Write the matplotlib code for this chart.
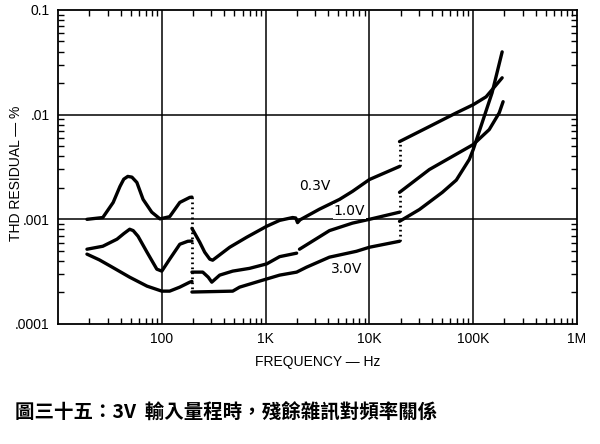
import matplotlib
matplotlib.use("Agg")
import matplotlib.pyplot as plt
from matplotlib.ticker import FixedLocator, FixedFormatter, LogLocator, NullFormatter

# data (Hz, THD residual %)
# 0.3V
f03_lo = [19, 27, 34, 39.5, 43, 47, 51.5, 57.5, 66, 80, 96, 119, 149, 186, 195]
v03_lo = [0.00100, 0.00104, 0.00145, 0.00206, 0.00242, 0.00257, 0.00253, 0.00225,
          0.00155, 0.00117, 0.00101, 0.00106, 0.00145, 0.00162, 0.00163]
f03_mid = [195, 210, 232, 259, 290, 309, 451, 657, 1023, 1365, 1820, 1950, 2030,
           2150, 3300, 5150, 6870, 10000, 19500]
v03_mid = [0.00082, 0.00072, 0.000604, 0.000485, 0.000416, 0.000407, 0.000541,
           0.000674, 0.000858, 0.000977, 0.00104, 0.00103, 0.00093, 0.00099,
           0.00125, 0.00155, 0.00185, 0.0024, 0.0032]
f03_hi = [19500, 37800, 68700, 100000, 133000, 152000, 190000]
v03_hi = [0.00553, 0.0077, 0.0104, 0.01245, 0.0148, 0.0173, 0.0225]

# 1.0V
f10_lo = [19, 27, 37, 43, 49, 53, 59, 72, 89.5, 100, 119, 149, 178, 195]
v10_lo = [0.000518, 0.000553, 0.000646, 0.000730, 0.000804, 0.000780, 0.000689,
          0.000485, 0.000334, 0.000320, 0.000416, 0.000578, 0.000617, 0.00062]
f10_mid = [195, 248, 280, 303, 361, 482, 700, 1023, 1365, 1990]
v10_mid = [0.000313, 0.000313, 0.00028, 0.000251, 0.000293, 0.00032, 0.00034,
           0.000375, 0.00044, 0.000475]
f10_mid2 = [2120, 4120, 6870, 10000, 19500]
v10_mid2 = [0.000518, 0.00078, 0.00092, 0.00100, 0.00117]
f10_hi = [19500, 37800, 100000, 142600, 178000, 194000]
v10_hi = [0.00181, 0.00299, 0.00518, 0.0072, 0.0104, 0.0133]

# 3.0V
f30_lo = [19, 25, 32, 49, 72, 100, 119, 149, 186, 195]
v30_lo = [0.000465, 0.00041, 0.000357, 0.00028, 0.00023, 0.000206, 0.000206,
          0.000225, 0.000251, 0.000255]
f30_mid = [195, 309, 482, 562, 935, 1365, 1990, 2480, 4120, 7500, 10000, 19500]
v30_mid = [0.000202, 0.000204, 0.000206, 0.000225, 0.000262, 0.000293, 0.000313,
           0.000349, 0.000435, 0.000495, 0.000541, 0.000617]
f30_hi = [19500, 30300, 50400, 68700, 91600, 100000, 122000, 152000, 190000]
v30_hi = [0.000957, 0.00124, 0.00181, 0.00237, 0.00373, 0.00464, 0.0084, 0.0162, 0.0398]

x_major = [10, 100, 1000, 10000, 100000, 1000000]
x_labels = ["", "100", "1K", "10K", "100K", "1M"]
y_major = [0.0001, 0.001, 0.01, 0.1]
y_labels = [".0001", ".001", ".01", "0.1"]

caption = "圖三十五：3V  輸入量程時，殘餘雜訊對頻率關係"

#===========================#

fig = plt.figure(figsize=(6, 4.44), dpi=100)
ax = fig.add_axes([0.0967, 0.2703, 0.865, 0.7072])
ax.set_xscale("log")
ax.set_yscale("log")
ax.set_xlim(10, 1e6)
ax.set_ylim(1e-4, 1e-1)

LW = 2.4
segs = [(f03_lo, v03_lo), (f03_mid, v03_mid), (f03_hi, v03_hi),
        (f10_lo, v10_lo), (f10_mid, v10_mid), (f10_mid2, v10_mid2), (f10_hi, v10_hi),
        (f30_lo, v30_lo), (f30_mid, v30_mid), (f30_hi, v30_hi)]
for f, v in segs:
    ax.plot(f, v, color="black", lw=LW, solid_capstyle="round",
            solid_joinstyle="round", zorder=3)

# range-switch dotted jumps
ax.plot([f03_lo[-1], f30_mid[0]], [v03_lo[-1], v30_mid[0]], color="black", lw=2,
        ls=(0, (0.6, 1.2)), zorder=3)
for a, b in [((f03_mid, v03_mid), (f03_hi, v03_hi)),
             ((f10_mid2, v10_mid2), (f10_hi, v10_hi)),
             ((f30_mid, v30_mid), (f30_hi, v30_hi))]:
    ax.plot([a[0][-1], b[0][0]], [a[1][-1], b[1][0]], color="black", lw=2,
            ls=(0, (0.6, 1.2)), zorder=3)

# curve labels
lab_kw = dict(fontsize=10, family="DejaVu Sans", ha="center", va="center", zorder=4)
ax.text(2960, 0.00206, "0.3V", **lab_kw)
ax.text(6430, 0.00119, "1.0V", bbox=dict(facecolor="white", edgecolor="none", pad=0.5), **lab_kw)
ax.text(6010, 0.000334, "3.0V", **lab_kw)

# grid at decades
for x in x_major[1:-1]:
    ax.axvline(x, color="black", lw=1.1, zorder=1)
for y in y_major[1:-1]:
    ax.axhline(y, color="black", lw=1.1, zorder=1)

ax.xaxis.set_major_locator(FixedLocator(x_major))
ax.xaxis.set_major_formatter(FixedFormatter(x_labels))
ax.yaxis.set_major_locator(FixedLocator(y_major))
ax.yaxis.set_major_formatter(FixedFormatter(y_labels))
ax.xaxis.set_minor_locator(LogLocator(base=10, subs=range(2, 10), numticks=20))
ax.yaxis.set_minor_locator(LogLocator(base=10, subs=range(2, 10), numticks=20))
ax.xaxis.set_minor_formatter(NullFormatter())
ax.yaxis.set_minor_formatter(NullFormatter())

ax.tick_params(which="both", direction="in", top=True, right=True, width=1.0)
ax.tick_params(which="major", length=0)
ax.tick_params(which="minor", length=4.5)
ax.tick_params(axis="x", which="major", pad=6, labelsize=10)
ax.tick_params(axis="y", which="major", pad=6, labelsize=10)
for lab in ax.get_xticklabels() + ax.get_yticklabels():
    lab.set_family("Liberation Sans")
for s in ax.spines.values():
    s.set_linewidth(1.3)

ax.set_xlabel("FREQUENCY — Hz", fontsize=10, family="Liberation Sans", labelpad=6)
ax.set_ylabel("THD RESIDUAL — %", fontsize=10, family="Liberation Sans")
ax.yaxis.set_label_coords(-0.068, 0.48)

fig.text(0.025, 1 - 413 / 444, caption, fontsize=14, fontweight="bold",
         family=["Noto Sans CJK TC", "DejaVu Sans"], ha="left", va="center")

plt.savefig("out.png", dpi=100)
